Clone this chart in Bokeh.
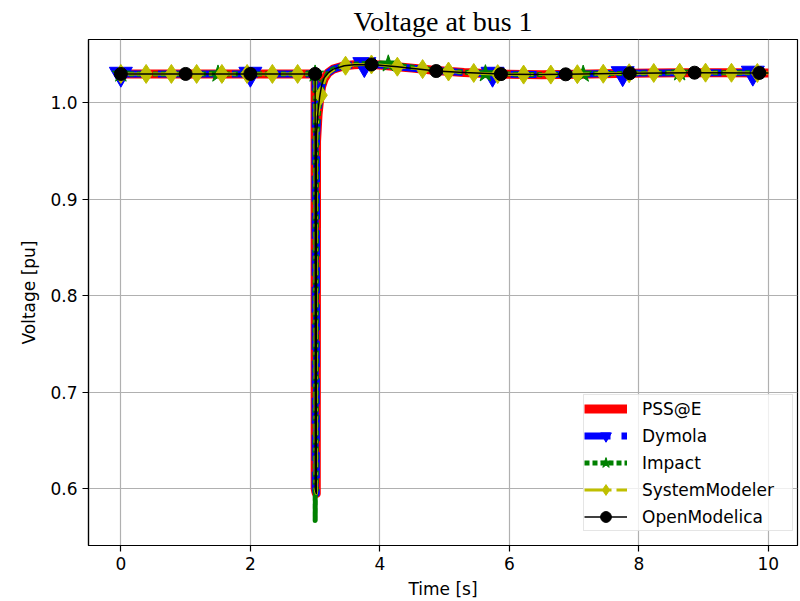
import numpy as np
from bokeh.plotting import figure
from bokeh.models import (ColumnDataSource, Range1d, FixedTicker, Legend,
                          LegendItem)
from bokeh.embed import file_html
from bokeh.resources import INLINE

# ---- simulated voltage at bus 1, one trace per tool -----------------------
PSSE_T = [0.0, 1.0, 2.0, 3.0, 3.001, 3.01, 3.018, 3.022, 3.045, 3.07, 3.1,
          3.14, 3.2, 3.28, 3.45, 3.6, 3.76, 4.0, 4.27, 4.5, 4.87, 5.3, 5.87,
          6.5, 7.05, 7.86, 8.63, 9.43, 10.0]
PSSE_V = [1.030, 1.030, 1.030, 1.030, 0.600, 0.597, 0.595, 0.960, 0.988, 1.004,
          1.017, 1.025, 1.031, 1.035, 1.0385, 1.0395, 1.0400, 1.0393, 1.0375,
          1.0360, 1.0335, 1.0315, 1.0297, 1.0292, 1.0297, 1.0307, 1.0312,
          1.0312, 1.0310]

DYM_T = [0.0, 1.0, 2.0, 3.0, 3.001, 3.01, 3.018, 3.022, 3.045, 3.07, 3.1,
         3.14, 3.2, 3.28, 3.45, 3.6, 3.76, 4.0, 4.27, 4.5, 4.87, 5.3, 5.74,
         6.5, 7.05, 7.75, 8.63, 9.43, 9.76, 10.0]
DYM_V = [1.030, 1.030, 1.030, 1.030, 0.600, 0.597, 0.595, 0.965, 0.990, 1.005,
         1.017, 1.025, 1.031, 1.035, 1.0385, 1.0395, 1.0400, 1.0393, 1.0375,
         1.0360, 1.0335, 1.0315, 1.0300, 1.0292, 1.0297, 1.0306, 1.0312,
         1.0312, 1.0311, 1.0310]
DYM_MARK_T = [0.0, 2.0, 3.76, 5.74, 7.75, 9.76]

IMP_T = [0.0, 1.5, 3.0, 3.001, 3.004, 3.01, 3.018, 3.022, 3.045, 3.07, 3.1,
         3.14, 3.2, 3.28, 3.45, 3.6, 3.8, 4.13, 4.5, 4.87, 5.3, 5.63, 6.5,
         7.14, 7.86, 8.63, 9.43, 10.0]
IMP_V = [1.030, 1.030, 1.030, 0.567, 0.596, 0.596, 0.595, 0.955, 0.984, 1.002,
         1.015, 1.024, 1.031, 1.035, 1.039, 1.040, 1.0408, 1.0405, 1.037,
         1.034, 1.0318, 1.0303, 1.0292, 1.0299, 1.0307, 1.0312, 1.0312, 1.031]
IMP_MARK_T = [0.0, 1.5, 3.0, 4.13, 5.63, 7.14, 8.63]

SM_T = [0.0, 0.39, 0.78, 1.17, 1.56, 1.95, 2.34, 2.73, 3.0, 3.001, 3.01, 3.018,
        3.022, 3.045, 3.09, 3.12, 3.16, 3.22, 3.30, 3.47, 3.6, 3.87, 4.27, 4.66,
        5.06, 5.45, 5.82, 6.22, 6.64, 7.05, 7.45, 7.85, 8.23, 8.63, 9.03, 9.43,
        9.83, 10.0]
SM_V = [1.030, 1.030, 1.030, 1.030, 1.030, 1.030, 1.030, 1.030, 1.030, 0.600,
        0.597, 0.595, 0.962, 0.989, 1.008, 1.018, 1.026, 1.031, 1.035, 1.0385,
        1.0395, 1.0398, 1.0375, 1.035, 1.0325, 1.031, 1.0298, 1.0293, 1.0293,
        1.0297, 1.0302, 1.0307, 1.031, 1.0312, 1.0313, 1.0312, 1.031, 1.031]
SM_MARK_T = [0.0, 0.39, 0.78, 1.17, 1.56, 1.95, 2.34, 2.73, 3.09, 3.47, 3.87,
             4.27, 4.66, 5.06, 5.45, 5.82, 6.22, 6.64, 7.05, 7.45, 7.85, 8.23,
             8.63, 9.03, 9.43, 9.83]

OM_T = [0.0, 1.0, 2.0, 3.0, 3.001, 3.01, 3.018, 3.022, 3.045, 3.07, 3.1, 3.14,
        3.2, 3.28, 3.45, 3.6, 3.87, 4.27, 4.87, 5.3, 5.87, 6.5, 6.87, 7.86,
        8.86, 9.86, 10.0]
OM_V = [1.030, 1.030, 1.030, 1.030, 0.600, 0.597, 0.595, 0.968, 0.992, 1.006,
        1.018, 1.026, 1.031, 1.035, 1.0385, 1.0395, 1.0398, 1.0375, 1.0330,
        1.0315, 1.0298, 1.0293, 1.0296, 1.0307, 1.0313, 1.0310, 1.0310]
OM_MARK_T = [0.0, 1.0, 2.0, 3.0, 3.87, 4.87, 5.87, 6.87, 7.86, 8.86, 9.86]

X_TICKS = [0, 2, 4, 6, 8, 10]
X_TICK_LABELS = ["0", "2", "4", "6", "8", "10"]
Y_TICKS = [0.6, 0.7, 0.8, 0.9, 1.0]
Y_TICK_LABELS = ["0.6", "0.7", "0.8", "0.9", "1.0"]

FONT = "DejaVu Sans"

p = figure(width=800, height=601, output_backend="svg", toolbar_location=None,
           x_range=Range1d(-0.5, 10.45), y_range=Range1d(0.541, 1.0657),
           min_border_left=88, min_border_right=3, min_border_top=38,
           min_border_bottom=56, title="Voltage at bus 1")
p.title.text_font = "Liberation Serif"
p.title.text_font_size = "28px"
p.title.text_font_style = "normal"
p.title.text_color = "black"
p.title.align = "center"
p.title.standoff = 6
p.background_fill_color = "white"
p.border_fill_color = "white"
p.outline_line_color = "black"
p.outline_line_width = 1.2

p.xaxis.ticker = FixedTicker(ticks=X_TICKS)
p.yaxis.ticker = FixedTicker(ticks=Y_TICKS)
p.xaxis.major_label_overrides = {t: s for t, s in zip(X_TICKS, X_TICK_LABELS)}
p.yaxis.major_label_overrides = {t: s for t, s in zip(Y_TICKS, Y_TICK_LABELS)}
p.xaxis.axis_label = "Time [s]"
p.yaxis.axis_label = "Voltage [pu]"
for ax in (p.xaxis, p.yaxis):
    ax.axis_line_color = "black"
    ax.axis_line_width = 1.2
    ax.major_tick_out = 6
    ax.major_tick_in = 0
    ax.minor_tick_out = 0
    ax.minor_tick_in = 0
    ax.major_tick_line_color = "black"
    ax.major_tick_line_width = 1.2
    ax.major_label_text_font = FONT
    ax.major_label_text_font_size = "17px"
    ax.major_label_text_color = "black"
    ax.major_label_standoff = 5
    ax.axis_label_text_font = FONT
    ax.axis_label_text_font_size = "17px"
    ax.axis_label_text_font_style = "normal"
    ax.axis_label_text_color = "black"
p.xaxis.axis_label_standoff = 6
p.yaxis.axis_label_standoff = 8

p.grid.grid_line_color = "#b0b0b0"
p.grid.grid_line_width = 1.2


def series(t, v, mark_t, color, width, dash, marker=None, size=None):
    t = np.asarray(t)
    v = np.asarray(v)
    line = p.line(t, v, line_color=color, line_width=width, line_dash=dash,
                  line_join="round")
    rends = [line]
    if marker is not None:
        sel = np.isin(t, mark_t)
        src = ColumnDataSource(dict(t=t[sel], v=v[sel]))
        sc = p.scatter("t", "v", source=src, marker=marker, size=size,
                       fill_color=color, line_color=color, line_width=1)
        rends.append(sc)
    return rends


r_psse = series(PSSE_T, PSSE_V, [], "#ff0000", 9, "solid")
r_dym = series(DYM_T, DYM_V, DYM_MARK_T, "#0000ff", 7, "26 11",
               "inverted_triangle", 23)
r_imp = series(IMP_T, IMP_V, IMP_MARK_T, "#008000", 5, "5 3", "star", 18)
r_sm = series(SM_T, SM_V, SM_MARK_T, "#bfbf00", 3, "19 5 3 5", "diamond", 19)
r_om = series(OM_T, OM_V, OM_MARK_T, "#000000", 1.5, "solid", "circle", 13)

legend = Legend(items=[
    LegendItem(label="PSS@E", renderers=r_psse),
    LegendItem(label="Dymola", renderers=r_dym),
    LegendItem(label="Impact", renderers=r_imp),
    LegendItem(label="SystemModeler", renderers=r_sm),
    LegendItem(label="OpenModelica", renderers=r_om),
], location=(495, 14))
legend.label_text_font = FONT
legend.label_text_font_size = "17px"
legend.label_text_color = "black"
legend.glyph_height = 27
legend.glyph_width = 43
legend.label_height = 27
legend.label_width = 150
legend.label_standoff = 15
legend.spacing = 0
legend.padding = 0
legend.margin = 0
legend.border_line_color = "#cccccc"
legend.border_line_width = 1
legend.background_fill_color = "white"
legend.background_fill_alpha = 0.8
p.add_layout(legend)

open("out.html", "w").write(file_html(p, INLINE))
